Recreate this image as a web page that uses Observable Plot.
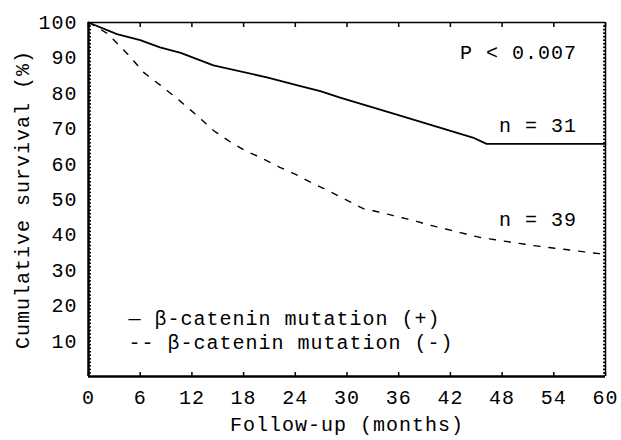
<!DOCTYPE html>
<html>
<head>
<meta charset="utf-8">
<script src="https://cdn.jsdelivr.net/npm/d3@7"></script>
<script src="https://cdn.jsdelivr.net/npm/@observablehq/plot@0.6"></script>
<style>
  html, body { margin: 0; padding: 0; background: white; }
  svg text { letter-spacing: 1px; }
</style>
</head>
<body>
<div id="chart"></div>
<script>
// Survival curves
const monthsPos   = [0, 3.3, 6, 8.3, 10.7, 14.5, 20.7, 24.6, 26.9, 29.2, 35.3, 40, 44.6, 46.2, 60];
const survivalPos = [100, 96.7, 95, 93, 91.4, 87.9, 84.5, 82.0, 80.6, 78.8, 74.3, 70.9, 67.5, 65.7, 65.7];

const monthsNeg   = [0, 2.2, 4.5, 6.4, 8.7, 10.3, 12.6, 14.5, 16.5, 18.2, 20.1, 22.2, 24.1, 26.0, 28.0, 29.9, 31.9, 33.8, 35.8, 37.7, 39.4, 45.4, 51.6, 59.3, 60];
const survivalNeg = [100, 96.9, 91.2, 85.9, 81.6, 78.5, 73.7, 69.5, 66.2, 63.8, 61.7, 59.1, 57, 54.6, 52.3, 49.9, 47.4, 46.4, 45.2, 44.1, 42.9, 39.3, 37, 34.7, 34.2];

const xTicks = [0, 6, 12, 18, 24, 30, 36, 42, 48, 54, 60];
const yTicks = [10, 20, 30, 40, 50, 60, 70, 80, 90, 100];
const yMinorTicks = d3.range(1, 100);

const annotationText = ["P < 0.007", "n = 31", "n = 39"];
const annotationX = [56.7, 56.7, 56.7];
const annotationY = [91.5, 70.9, 44.3];

const legendText = ["— β-catenin mutation (+)", "-- β-catenin mutation (-)"];
const legendX = [4.65, 4.65];
const legendY = [16.4, 9.6];

const posData = monthsPos.map((m, i) => ({month: m, surv: survivalPos[i]}));
const negData = monthsNeg.map((m, i) => ({month: m, surv: survivalNeg[i]}));
const annotations = annotationText.map((t, i) => ({t, x: annotationX[i], y: annotationY[i]}));
const legend = legendText.map((t, i) => ({t, x: legendX[i], y: legendY[i]}));

const font = "'Liberation Mono', 'DejaVu Sans Mono', monospace";

const chart = Plot.plot({
  width: 621,
  height: 440,
  marginLeft: 88,
  marginRight: 16,
  marginTop: 22,
  marginBottom: 64,
  style: {fontFamily: font, fontSize: "20px", background: "white", color: "black"},
  x: {domain: [0, 60]},
  y: {domain: [0, 100]},
  marks: [
    // tick labels
    Plot.axisY({ticks: yTicks, tickSize: 0, tickPadding: 11, label: null, fontSize: 20}),
    Plot.axisX({ticks: xTicks, tickSize: 0, tickPadding: 13, label: null, fontSize: 20}),
    // inward minor ticks on y, both sides
    Plot.axisY({anchor: "left", ticks: yMinorTicks, tickSize: -3, text: null, label: null, strokeWidth: 1.5}),
    Plot.axisY({anchor: "right", ticks: yMinorTicks, tickSize: -3, text: null, label: null, strokeWidth: 1.5}),
    // inward x ticks, bottom and top
    Plot.axisX({anchor: "bottom", ticks: xTicks, tickSize: -4, text: null, label: null, strokeWidth: 1.5}),
    Plot.axisX({anchor: "top", ticks: xTicks, tickSize: -4, text: null, label: null, strokeWidth: 1.5}),
    // frame
    Plot.ruleX([0], {strokeWidth: 2.5}),
    Plot.ruleY([0], {strokeWidth: 2.5}),
    Plot.ruleX([60], {strokeWidth: 1.5}),
    Plot.ruleY([100], {strokeWidth: 1.5}),
    // curves
    Plot.line(negData, {x: "month", y: "surv", stroke: "black", strokeWidth: 1.4, strokeDasharray: "6,9"}),
    Plot.line(posData, {x: "month", y: "surv", stroke: "black", strokeWidth: 1.8}),
    // annotations
    Plot.text(annotations, {x: "x", y: "y", text: "t", textAnchor: "end", fontSize: 20, fill: "black"}),
    Plot.text(legend, {x: "x", y: "y", text: "t", textAnchor: "start", fontSize: 20, fill: "black"}),
    // axis titles
    Plot.text(["Follow-up (months)"], {frameAnchor: "bottom", dy: 54, text: d => d, textAnchor: "middle", fontSize: 20, fill: "black"}),
    Plot.text(["Cumulative survival (%)"], {frameAnchor: "left", dx: -66, rotate: -90, text: d => d, textAnchor: "middle", fontSize: 20, fill: "black"})
  ]
});

document.getElementById("chart").appendChild(chart);
</script>
</body>
</html>
